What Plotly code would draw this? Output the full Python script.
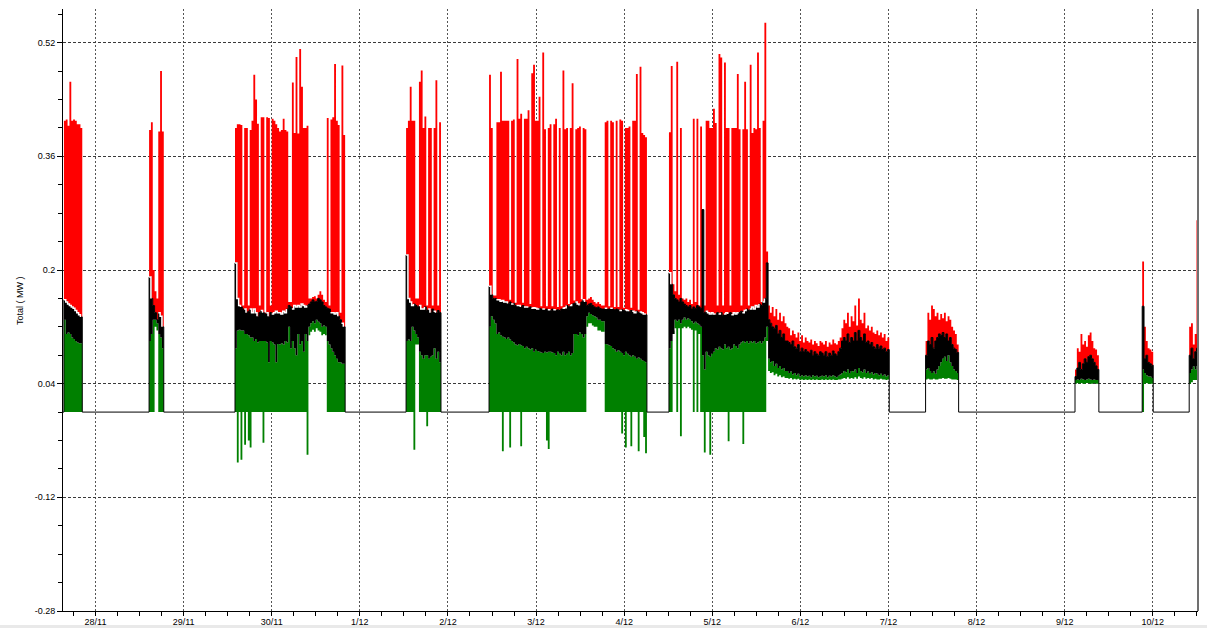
import pandas as pd
import plotly.graph_objects as go

# ---------------- data (MW), half-hour samples, hours relative to 28/11 00:00 ----------------
T0 = "2012-11-28 00:00"
STEP_H = 0.5

b1_start = -8.6
b1_red = [.41, .412, .403, .465, .41, .412, .41, .405, .405, .40]
b1_black = [.158, .155, .152, .15, .148, .146, .143, .14, .137, .134]
b1_green = [.13, .11, .112, .11, .105, .103, .1, .098, .097, .097]
b1_base = [0, 0, 0, 0, 0, 0, 0, 0, 0, 0]

b2_start = 14.6
b2_red = [.397, .408, .20, .17, .16, .395, .48, .395]
b2_black = [.19, .16, .15, .14, .13, .14, .135, .12]
b2_green = [.1, .11, .13, .13, .125, .11, .105, .09]
b2_base = [0, 0, 0, .12, .115, 0, 0, 0]

b3_start = 38.0
b3_red = [.40, .405, .405, .404, .15, .40, .40, .15, .397, .41,
          .475, .44, .406, .15, .415, .415, .14, .415, .414, .15,
          .413, .41, .405, .40, .395, .397, .413, .397, .395, .155,
          .155, .464, .393, .50, .392, .511, .458, .40, .40, .403,
          .16, .16, .162, .163, .16, .165, .17, .165, .158, .155,
          .414, .15, .412, .415, .49, .41, .404, .14, .488, .39]
b3_black = [.21, .16, .15, .148, .145, .145, .14, .142, .145, .14,
            .145, .14, .135, .14, .143, .14, .138, .14, .135, .14,
            .138, .14, .142, .14, .14, .138, .142, .14, .145, .15,
            .148, .145, .15, .148, .15, .148, .152, .15, .148, .15,
            .152, .155, .158, .155, .156, .16, .158, .155, .15, .148,
            .146, .145, .14, .14, .138, .14, .135, .13, .125, .12]
b3_green = [.09, .115, .116, .115, .115, .11, .11, .108, .105, .105,
            .1, .103, .098, .1, .1, .1, .1, .098, .07, .1,
            .098, .095, .07, .096, .095, .097, .095, .1, .098, .12,
            .09, .1, .09, .08, .11, .095, .1, .085, .11, .1,
            .12, .125, .128, .125, .13, .127, .125, .12, .122, .12,
            .1, .095, .09, .085, .08, .075, .07, .07, .068, .068]
b3_base = [0, -.071, 0, -.067, 0, -.046, 0, -.04, -.05, 0,
           0, 0, 0, 0, 0, -.043, 0, 0, 0, 0,
           0, 0, 0, 0, 0, 0, 0, 0, 0, 0,
           0, 0, 0, 0, 0, 0, 0, 0, 0, -.06,
           .108, .113, .116, .113, .118, .115, .113, .108, .11, .108,
           0, 0, 0, 0, 0, 0, 0, 0, 0, 0]

b4_start = 84.6
b4_red = [.40, .41, .458, .41, .41, .16, .16, .465, .481, .40,
          .416, .15, .40, .40, .15, .40, .467, .15, .408]
b4_black = [.221, .16, .155, .15, .152, .15, .148, .15, .145, .145,
            .148, .143, .145, .14, .145, .142, .14, .143, .14]
b4_green = [.10, .102, .1, .12, .115, .11, .105, .085, .08, .075,
            .08, .08, .075, .078, .08, .09, .075, .085, .07]
b4_base = [0, 0, 0, 0, -.053, .095, .095, 0, 0, 0,
           0, -.02, 0, 0, 0, 0, 0, 0, 0]

b5_start = 107.2
b5_red = [.475, .40, .164, .164, .408, .408, .479, .41, .41, .41,
          .41, .158, .41, .412, .154, .497, .413, .42, .154, .413,
          .413, .425, .152, .477, .489, .41, .41, .444, .149, .506,
          .398, .149, .40, .405, .149, .405, .413, .148, .40, .149,
          .481, .398, .40, .152, .40, .463, .157, .398, .40, .402,
          .159, .40, .398,
          .158, .16, .162, .158, .155, .153, .155, .152, .15, .15,
          .408, .41, .149, .41, .408, .148, .41, .148, .412, .41,
          .147, .40, .40, .402, .147, .41, .41, .476, .144, .486,
          .393, .39, .387]
b5_black = [.177, .165, .16, .16, .158, .158, .156, .157, .155, .155,
            .153, .155, .152, .153, .15, .15, .15, .148, .15, .148,
            .148, .147, .148, .146, .147, .146, .145, .146, .145, .145,
            .144, .145, .144, .143, .145, .144, .143, .144, .143, .145,
            .146, .147, .15, .148, .15, .152, .153, .155, .152, .15,
            .155, .158, .155,
            .15, .152, .153, .15, .148, .147, .148, .146, .145, .145,
            .146, .145, .145, .146, .145, .144, .145, .144, .143, .144,
            .143, .144, .143, .142, .143, .142, .14, .142, .14, .141,
            .14, .138, .137]
b5_green = [.12, .135, .13, .125, .11, .112, .108, .106, .105, .103,
            .105, .102, .1, .098, .095, .094, .096, .094, .093, .09,
            .092, .09, .088, .09, .085, .088, .086, .085, .084, .083,
            .085, .084, .085, .085, .084, .083, .08, .085, .082, .08,
            .085, .08, .082, .085, .08, .083, .11, .11, .108, .112,
            .11, .105, .11,
            .135, .14, .138, .136, .135, .133, .13, .13, .128, .128,
            .096, .095, .094, .093, .09, .088, .085, .087, .085, .083,
            .08, .085, .082, .08, .078, .08, .078, .075, .077, .075,
            .073, .072, .07]
b5_base = [0, 0, 0, 0, 0, 0, 0, -.055, 0, 0,
           0, -.05, 0, 0, 0, 0, 0, -.048, 0, 0,
           0, 0, 0, 0, 0, 0, 0, 0, 0, 0,
           0, -.04, -.052, 0, 0, 0, 0, 0, 0, 0,
           0, 0, 0, 0, 0, 0, 0, 0, 0, 0,
           0, 0, 0,
           .12, .125, .125, .122, .12, .12, .115, .115, .113, .113,
           0, 0, 0, 0, 0, 0, 0, 0, 0, -.03,
           0, -.05, 0, 0, -.048, 0, 0, 0, -.055, 0,
           0, -.035, -.058]

b7_start = 156.2
b7_red = [.394, .487, .18, .17, .493, .165, .40, .16, .158, .16,
          .155, .158, .152, .413, .155, .413, .15, .402, .285, .15,
          .41, .41, .40, .40, .427, .407, .15, .504, .499, .15,
          .492, .40, .40, .15, .40, .40, .40, .476, .398, .15,
          .398, .465, .398, .15, .489, .393, .40, .398, .506, .40,
          .155, .41, .548, .226]
b7_black = [.196, .18, .165, .16, .158, .155, .16, .155, .152, .15,
            .148, .15, .145, .148, .146, .15, .148, .146, .285, .14,
            .142, .14, .138, .14, .138, .137, .14, .138, .14, .136,
            .138, .14, .138, .14, .137, .14, .138, .14, .14, .142,
            .14, .143, .145, .143, .145, .148, .145, .15, .148, .152,
            .15, .155, .16, .21]
b7_green = [.09, .1, .11, .13, .128, .13, .125, .13, .133, .13,
            .132, .13, .128, .125, .127, .125, .123, .12, .08, .06,
            .085, .08, .078, .082, .085, .09, .088, .092, .09, .088,
            .095, .09, .092, .088, .09, .095, .093, .09, .095, .098,
            .1, .098, .1, .097, .1, .098, .1, .097, .098, .1,
            .097, .1, .105, .12]
b7_base = [0, 0, .115, .118, 0, .118, -.034, .118, .12, .118,
           .12, .118, .116, 0, .115, 0, .11, 0, 0, -.057,
           0, 0, -.06, 0, 0, 0, 0, 0, 0, 0,
           0, 0, -.041, 0, 0, 0, 0, 0, 0, 0,
           -.045, 0, 0, 0, 0, 0, 0, 0, 0, 0,
           0, 0, 0, .1]

b8_start = 183.2
b8_red = [.15, .14, .148, .135, .145, .13, .14, .128, .135, .125,
          .12, .118, .108, .115, .11, .105, .112, .1, .108, .098,
          .105, .1, .098, .102, .095, .1, .097, .093, .1, .098,
          .095, .1, .092, .098, .095, .102, .097, .095, .1, .105,
          .118, .13, .125, .14, .12, .135, .128, .15, .122, .16,
          .13, .125, .14, .118, .122, .115, .12, .112, .11, .115,
          .108, .112, .105, .11, .1, .105]
b8_black = [.13, .125, .12, .118, .122, .11, .115, .105, .11, .1,
            .1, .098, .095, .1, .092, .09, .095, .085, .09, .085,
            .088, .085, .083, .087, .08, .085, .082, .08, .085, .083,
            .08, .085, .078, .083, .08, .086, .082, .08, .085, .09,
            .1, .105, .1, .11, .098, .105, .1, .112, .1, .115,
            .105, .1, .11, .098, .1, .095, .098, .092, .09, .095,
            .09, .093, .088, .09, .085, .088]
b8_green = [.075, .07, .072, .065, .068, .062, .065, .06, .062, .058,
            .058, .055, .057, .053, .055, .052, .054, .05, .052, .05,
            .052, .05, .051, .049, .052, .05, .051, .049, .05, .051,
            .05, .052, .049, .051, .05, .052, .05, .049, .051, .053,
            .055, .058, .056, .06, .055, .058, .057, .06, .055, .062,
            .058, .056, .06, .055, .057, .054, .056, .053, .055, .054,
            .052, .054, .051, .053, .05, .052]
b8_base = [.058, .055, .056, .052, .054, .05, .052, .049, .05, .048,
           .048, .047, .048, .046, .047, .046, .047, .045, .046, .045,
           .046, .045, .046, .045, .046, .045, .046, .045, .045, .046,
           .045, .046, .045, .046, .045, .046, .045, .045, .046, .046,
           .047, .048, .047, .049, .047, .048, .047, .049, .047, .05,
           .048, .047, .049, .047, .048, .047, .048, .046, .047, .046,
           .046, .047, .046, .046, .045, .046]

b9_start = 226.1
b9_red = [.1, .14, .13, .15, .145, .135, .14, .13, .138, .132, .14, .128, .135, .13, .12, .115, .11, .095]
b9_black = [.08, .1, .095, .105, .09, .1, .105, .11, .108, .112, .105, .11, .1, .105, .095, .09, .088, .084]
b9_green = [.06, .062, .058, .055, .057, .054, .06, .065, .07, .075, .078, .072, .08, .07, .065, .06, .058, .055]
b9_base = [.046, .047, .046, .046, .047, .046, .046, .047, .047, .048, .047, .047, .048, .047, .046, .046, .046, .045]

b10_start = 266.8
b10_red = [.06, .09, .085, .11, .095, .1, .092, .108, .112, .1, .09, .088, .08]
b10_black = [.05, .062, .07, .06, .068, .075, .07, .078, .08, .075, .07, .065, .06]
b10_green = [.045, .046, .045, .047, .046, .045, .046, .047, .046, .045, .046, .045, .045]
b10_base = [.04, .041, .04, .041, .04, .04, .041, .041, .04, .04, .041, .04, .04]

b11_start = 285.1
b11_red = [.212, .12, .1, .09, .088, .085]
b11_black = [.149, .075, .08, .07, .068, .066]
b11_green = [.06, .055, .052, .05, .05, .048]
b11_base = [0, .04, .041, .04, .04, .04]

b12_start = 297.9
b12_red = [.12, .125, .095, .11, .27]
b12_black = [.08, .09, .075, .085, .09]
b12_green = [.055, .06, .064, .06, .065]
b12_base = [.04, .042, .045, .045, .045]

y_tick_vals = [-0.28, -0.12, 0.04, 0.2, 0.36, 0.52]
x_range_h = [-8.85, 300.3]
y_range = [-0.28, 0.5674]

# ---------------- assemble step series ----------------
blocks = [
    (b1_start, b1_red, b1_black, b1_green, b1_base),
    (b2_start, b2_red, b2_black, b2_green, b2_base),
    (b3_start, b3_red, b3_black, b3_green, b3_base),
    (b4_start, b4_red, b4_black, b4_green, b4_base),
    (b5_start, b5_red, b5_black, b5_green, b5_base),
    (b7_start, b7_red, b7_black, b7_green, b7_base),
    (b8_start, b8_red, b8_black, b8_green, b8_base),
    (b9_start, b9_red, b9_black, b9_green, b9_base),
    (b10_start, b10_red, b10_black, b10_green, b10_base),
    (b11_start, b11_red, b11_black, b11_green, b11_base),
    (b12_start, b12_red, b12_black, b12_green, b12_base),
]

hours = [-10.0]
red, black, green, base = [0.0], [0.0], [0.0], [0.0]
for k, (start, r, bl, g, bs) in enumerate(blocks):
    n = len(r)
    for i in range(n):
        hours.append(start + STEP_H * i)
        red.append(r[i]); black.append(bl[i]); green.append(g[i]); base.append(bs[i])
    end = start + STEP_H * n
    nxt = blocks[k + 1][0] if k + 1 < len(blocks) else None
    if nxt is None or abs(nxt - end) > 1e-6:
        hours.append(end)
        red.append(0.0); black.append(0.0); green.append(0.0); base.append(0.0)
hours.append(302.0)
red.append(0.0); black.append(0.0); green.append(0.0); base.append(0.0)

t0 = pd.Timestamp(T0)
times = [t0 + pd.Timedelta(hours=h) for h in hours]
sep = [b if (r - b) > 0.1 else None for r, b in zip(red, black)]

RED, BLACK, GREEN = "#ff0000", "#000000", "#008000"

fig = go.Figure()
fig.add_trace(go.Scatter(x=times, y=base, mode="lines", line=dict(width=0, shape="hv", color=GREEN),
                         hoverinfo="skip", showlegend=False))
fig.add_trace(go.Scatter(x=times, y=green, mode="lines", line=dict(width=0, shape="hv", color=GREEN),
                         fill="tonexty", fillcolor=GREEN, hoverinfo="skip", showlegend=False))
fig.add_trace(go.Scatter(x=times, y=black, mode="lines", line=dict(width=1, shape="hv", color=BLACK),
                         fill="tonexty", fillcolor=BLACK, hoverinfo="skip", showlegend=False))
fig.add_trace(go.Scatter(x=times, y=red, mode="lines", line=dict(width=0, shape="hv", color=RED),
                         fill="tonexty", fillcolor=RED, hoverinfo="skip", showlegend=False))
fig.add_trace(go.Scatter(x=times, y=sep, mode="lines", line=dict(width=1.5, shape="hv", color="#ffffff"),
                         connectgaps=False, hoverinfo="skip", showlegend=False))

font = dict(family="Liberation Sans, Arial, sans-serif", size=9, color="#000000")
x_range = [t0 + pd.Timedelta(hours=h) for h in x_range_h]

fig.update_layout(
    width=1207, height=628,
    margin=dict(l=63, r=9, t=9, b=17),
    paper_bgcolor="#ffffff", plot_bgcolor="#ffffff",
    font=font,
    xaxis=dict(
        type="date", range=x_range, tick0=T0, dtick=86400000, tickformat="%-d/%m",
        showgrid=True, gridcolor="#555555", griddash="2px,2px", gridwidth=1,
        ticks="outside", ticklen=4, tickcolor="#000000", tickfont=font, ticklabelstandoff=-2,
        showline=True, linecolor="#000000", linewidth=1, zeroline=False, automargin=False,
        minor=dict(tick0=T0, dtick=6 * 3600000, ticks="outside", ticklen=4, tickcolor="#000000", showgrid=False),
    ),
    yaxis=dict(
        range=y_range, tickmode="array", tickvals=y_tick_vals,
        ticktext=[f"{v:g}" for v in y_tick_vals],
        showgrid=True, gridcolor="#3a3a3a", griddash="3px,2px", gridwidth=1,
        ticks="outside", ticklen=5, tickcolor="#000000", tickfont=font,
        showline=True, linecolor="#000000", linewidth=1, zeroline=False, automargin=False,
        minor=dict(tickmode="linear", tick0=-0.28, dtick=0.04, ticks="outside", ticklen=4,
                   tickcolor="#000000", showgrid=False),
    ),
    shapes=[
        dict(type="line", xref="paper", yref="paper", x0=1, x1=1, y0=0, y1=1,
             line=dict(color="#707070", width=2)),
        dict(type="rect", xref="paper", yref="paper", x0=-0.06, x1=1.01, y0=-0.03, y1=-0.0233,
             fillcolor="#e9e9e9", line=dict(width=0), layer="below"),
    ],
    annotations=[
        dict(text="Total ( MW )", xref="paper", yref="paper", x=-0.0379, y=0.5166,
             textangle=-90, showarrow=False, font=font, xanchor="center", yanchor="middle"),
    ],
)

fig.write_html("out.html", config={"displayModeBar": False},
               post_script="document.body.style.margin='0px';document.body.style.overflow='hidden';")
